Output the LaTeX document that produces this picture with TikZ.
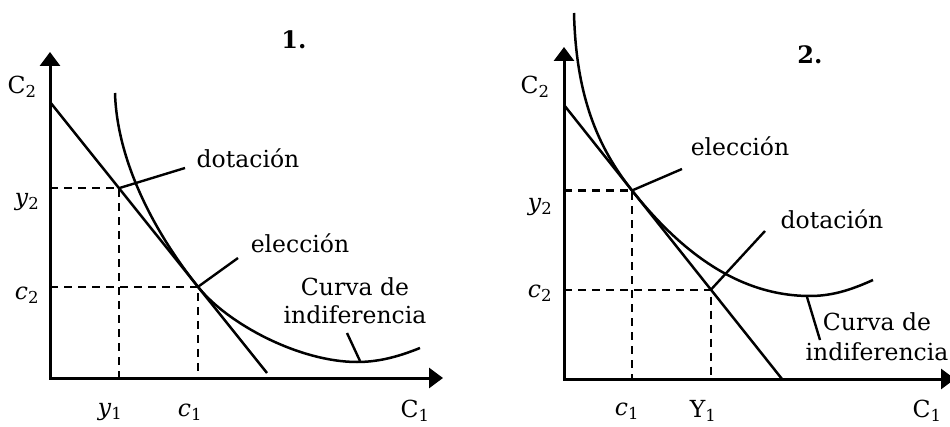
\documentclass[tikz,border=0pt]{standalone}
\usepackage{fontspec}
\setmainfont{DejaVu Serif}
\usetikzlibrary{arrows.meta,calc}
\begin{document}
\begin{tikzpicture}[x=1pt,y=-1pt,
  axis/.style={line width=3pt,line join=miter,{Triangle[length=14pt,width=20pt]}-{Triangle[length=14pt,width=20pt]}},
  curve/.style={line width=2.5pt},
  leader/.style={line width=2.4pt},
  guide/.style={line width=2.2pt,dash pattern=on 8pt off 6pt},
  lbl/.style={font=\fontsize{23.5}{27}\selectfont, inner sep=0pt},
  title/.style={font=\fontsize{24}{27}\selectfont\bfseries, inner sep=0pt},
]
\useasboundingbox (0,0) rectangle (950,427);

% ---------------- Panel 1 ----------------
\coordinate (O1) at (50,378);
\coordinate (Y1top) at (50,52);
\coordinate (X1end) at (443,378);
\draw[axis] (Y1top) -- (O1) -- (X1end);

\coordinate (B1a) at (50,102);
\coordinate (B1b) at (267,373);
\coordinate (E1) at ($(B1a)!0.318!(B1b)$);
\coordinate (Ch1) at ($(B1a)!0.682!(B1b)$);

\draw[guide] (O1 |- E1) -- (E1) -- (E1 |- O1);
\draw[guide] (O1 |- Ch1) -- (Ch1) -- (Ch1 |- O1);

\draw[curve] (B1a) -- (B1b);

\coordinate (I1s) at (115,93);
\coordinate (I1m) at (357,362);
\coordinate (I1e) at (420,348);
\draw[curve] (I1s) .. controls (117,160) and ($(Ch1)+(-45,-56.2)$) .. (Ch1)
  .. controls ($(Ch1)+(30,37.5)$) and (300,362) .. (I1m)
  .. controls (380,362) and (400,356) .. (I1e);

\node[title] (t1) at (294,40) {1.};
\node[lbl] (dot1) at (248,158) {dotación};
\node[lbl] (ele1) at (300,243) {elección};
\node[lbl] (cur1a) at (355,287) {Curva de};
\node[lbl] (cur1b) at (355,315) {indiferencia};

\coordinate (L1d) at (185,168);
\coordinate (L1e) at (238,258);
\coordinate (L1c1) at (347,333);
\coordinate (L1c2) at (360,361);
\draw[leader] (E1) -- (L1d);
\draw[leader] (Ch1) -- (L1e);
\draw[leader] (L1c1) -- (L1c2);

\node[lbl] (C2a) at (22,87) {C\textsubscript{2}};
\node[lbl] (y2a) at (27,202) {\textit{y}\textsubscript{2}};
\node[lbl] (c2a) at (27,295) {\textit{c}\textsubscript{2}};
\node[lbl] (y1a) at (110,412) {\textit{y}\textsubscript{1}};
\node[lbl] (c1a) at (190,412) {\textit{c}\textsubscript{1}};
\node[lbl] (C1a) at (415,411) {C\textsubscript{1}};

% ---------------- Panel 2 ----------------
\coordinate (O2) at (564,379);
\coordinate (Y2top) at (564,47);
\coordinate (X2end) at (955,379);
\draw[axis] (Y2top) -- (O2) -- (X2end);

\coordinate (B2a) at (564,105);
\coordinate (B2b) at (782,379);
\coordinate (Ch2) at ($(B2a)!0.312!(B2b)$);
\coordinate (E2) at ($(B2a)!0.674!(B2b)$);

\draw[guide] (O2 |- Ch2) -- (Ch2) -- (Ch2 |- O2);
\draw[guide] (O2 |- E2) -- (E2) -- (E2 |- O2);

\draw[curve] (B2a) -- (B2b);

\coordinate (I2s) at (574,13);
\coordinate (I2m) at (810,296);
\coordinate (I2e) at (873,280);
\draw[curve] (I2s) .. controls (576,95) and ($(Ch2)+(-35,-44)$) .. (Ch2)
  .. controls ($(Ch2)+(50,62.9)$) and (740,296) .. (I2m)
  .. controls (835,296) and (855,288) .. (I2e);

\node[title] (t2) at (810,55) {2.};
\node[lbl] (ele2) at (740,146) {elección};
\node[lbl] (dot2) at (832,219) {dotación};
\node[lbl] (cur2a) at (877,322) {Curva de};
\node[lbl] (cur2b) at (877,352) {indiferencia};

\coordinate (L2e) at (682,169);
\coordinate (L2d) at (765,231);
\coordinate (L2c1) at (807,297);
\coordinate (L2c2) at (820,340);
\draw[leader] (Ch2) -- (L2e);
\draw[leader] (E2) -- (L2d);
\draw[leader] (L2c1) -- (L2c2);

\node[lbl] (C2b) at (535,87) {C\textsubscript{2}};
\node[lbl] (y2b) at (540,207) {\textit{y}\textsubscript{2}};
\node[lbl] (c2b) at (540,293) {\textit{c}\textsubscript{2}};
\node[lbl] (c1b) at (627,411) {\textit{c}\textsubscript{1}};
\node[lbl] (Y1b) at (703,411) {Y\textsubscript{1}};
\node[lbl] (C1b) at (927,411) {C\textsubscript{1}};
\end{tikzpicture}
\end{document}
